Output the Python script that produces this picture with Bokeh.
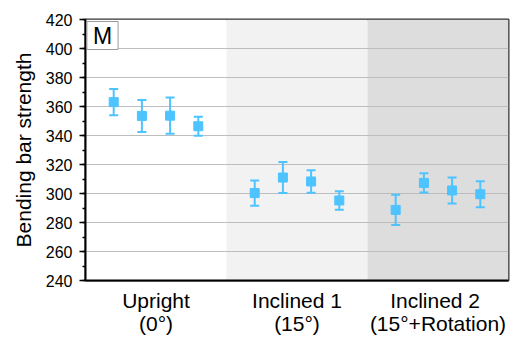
from bokeh.plotting import figure
from bokeh.models import Range1d, FixedTicker, Whisker, ColumnDataSource, Label, TeeHead
from bokeh.embed import file_html
from bokeh.resources import INLINE

# ---- data ----
groups = ["Upright", "Inclined 1", "Inclined  2"]
group_sub = ["(0°)", "(15°)", "(15°+Rotation)"]
strength = [
    [363.0, 353.5, 353.7, 346.4],
    [300.3, 311.0, 308.3, 295.2],
    [288.7, 307.3, 302.1, 299.5],
]
err = [
    [9.0, 11.0, 12.5, 6.5],
    [8.7, 10.7, 7.7, 6.4],
    [10.4, 6.6, 9.0, 9.0],
]
y_ticks = list(range(240, 421, 20))
y_minor = list(range(240, 421, 10))
band_colors = ["#ffffff", "#f2f2f2", "#dddddd"]

FONT = "Liberation Sans"
COLOR = "#4dc3ff"

slots = len(strength[0]) + 1
xs, ys, lo, hi = [], [], [], []
for g, (vals, es) in enumerate(zip(strength, err)):
    for i, (v, e) in enumerate(zip(vals, es)):
        xs.append(g * slots + i + 1)
        ys.append(v)
        lo.append(v - e)
        hi.append(v + e)

n = len(groups)
p = figure(width=517, height=338, output_backend="svg", toolbar_location=None,
           x_range=Range1d(0, n * slots), y_range=Range1d(240, 420),
           min_border_left=85, min_border_right=9, min_border_top=19, min_border_bottom=58)
p.background_fill_color = "white"
p.border_fill_color = "white"
p.outline_line_color = "#333333"
p.outline_line_width = 2

# bands
p.quad(left=[g * slots for g in range(n)], right=[(g + 1) * slots for g in range(n)],
       bottom=240, top=420, fill_color=band_colors, line_color=None, level="image")

# grid
p.xgrid.visible = False
p.ygrid.ticker = FixedTicker(ticks=y_ticks)
p.ygrid.grid_line_color = "#bdbdbd"
p.ygrid.grid_line_width = 1

# y axis
ya = p.yaxis[0]
ya.ticker = FixedTicker(ticks=y_ticks, minor_ticks=y_minor)
ya.axis_line_color = "black"
ya.axis_line_width = 2
ya.major_tick_line_color = "black"
ya.major_tick_line_width = 1.5
ya.major_tick_out = 6
ya.major_tick_in = 0
ya.minor_tick_line_color = "black"
ya.minor_tick_line_width = 1.5
ya.minor_tick_out = 3
ya.minor_tick_in = 0
ya.major_label_text_font = FONT
ya.major_label_text_font_size = "16px"
ya.major_label_text_color = "black"
ya.major_label_standoff = 7
ya.axis_label = "Bending bar strength"
ya.axis_label_text_font = FONT
ya.axis_label_text_font_size = "21px"
ya.axis_label_text_font_style = "normal"
ya.axis_label_text_color = "black"
ya.axis_label_standoff = 8

# x axis with two-line category labels
centers = [g * slots + slots / 2 for g in range(n)]
xa = p.xaxis[0]
xa.ticker = FixedTicker(ticks=centers)
xa.major_label_overrides = {c: f"{t}\n{s}" for c, t, s in zip(centers, groups, group_sub)}
xa.axis_line_color = "black"
xa.axis_line_width = 2
xa.major_tick_line_color = None
xa.minor_tick_line_color = None
xa.major_label_text_font = FONT
xa.major_label_text_font_size = "21px"
xa.major_label_text_color = "black"
xa.major_label_text_line_height = 1.0
xa.major_label_standoff = 2

# data
src = ColumnDataSource(dict(x=xs, y=ys, lower=lo, upper=hi))
w = Whisker(base="x", lower="lower", upper="upper", source=src,
            line_color=COLOR, line_width=2,
            upper_head=TeeHead(size=9, line_color=COLOR, line_width=2),
            lower_head=TeeHead(size=9, line_color=COLOR, line_width=2))
p.add_layout(w)
p.scatter("x", "y", source=src, marker="square", size=9, fill_color=COLOR, line_color=COLOR)

# panel letter
p.add_layout(Label(x=0.05, y=418.6, text="M", text_align="left", text_baseline="top",
                   text_font=FONT, text_font_size="23px", text_color="black",
                   border_line_color="#9a9a9a", border_line_width=1,
                   background_fill_color="white", padding=(6, 1)))

open("out.html", "w").write(file_html(p, INLINE))
